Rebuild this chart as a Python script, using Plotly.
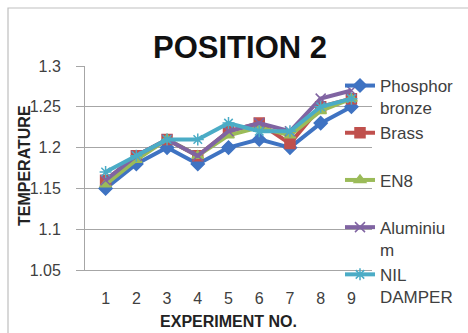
import plotly.graph_objects as go

experiments = ["1", "2", "3", "4", "5", "6", "7", "8", "9"]
phosphor_bronze = [1.15, 1.18, 1.20, 1.18, 1.20, 1.21, 1.20, 1.23, 1.25]
brass = [1.16, 1.19, 1.21, 1.19, 1.22, 1.23, 1.205, 1.25, 1.26]
en8 = [1.155, 1.185, 1.21, 1.19, 1.215, 1.225, 1.215, 1.245, 1.26]
aluminium = [1.16, 1.19, 1.21, 1.19, 1.22, 1.23, 1.22, 1.26, 1.27]
nil_damper = [1.17, 1.19, 1.21, 1.21, 1.23, 1.22, 1.22, 1.25, 1.26]
y_ticks = [1.05, 1.1, 1.15, 1.2, 1.25, 1.3]
y_tick_text = ["1.05", "1.1", "1.15", "1.2", "1.25", "1.3"]

series = [
    ("Phosphor<br>bronze", phosphor_bronze, "#3F73C2", "diamond"),
    ("Brass<br> ", brass, "#C0504D", "square"),
    ("EN8<br> ", en8, "#9BBB59", "triangle-up"),
    ("Aluminiu<br>m", aluminium, "#8064A2", "x-thin-open"),
    ("NIL<br>DAMPER", nil_damper, "#4BACC6", "asterisk-open"),
]

fig = go.Figure()
for i, (name, vals, col, sym) in enumerate(series):
    fig.add_trace(go.Scatter(
        x=experiments, y=vals, name=name, mode="lines+markers",
        line=dict(color=col, width=4),
        marker=dict(symbol=sym, size=10, color=col, line=dict(color=col, width=1.5)),
        legendgroup=str(i),
    ))

font = "Liberation Sans"
fig.update_layout(
    width=468, height=333,
    margin=dict(l=85, r=96, t=66, b=63, autoexpand=False),
    paper_bgcolor="white", plot_bgcolor="white",
    font=dict(family=font, color="#404040", size=13),
    title=dict(text="<b>POSITION 2</b>", x=240 / 468, xanchor="center",
               y=1 - 47 / 333, yanchor="middle",
               font=dict(family=font, size=31, color="#111111")),
    showlegend=True,
    legend=dict(x=(340 - 85) / 287, xanchor="left",
                yref="container", y=1 - 68 / 333, yanchor="top",
                maxheight=320,
                bgcolor="rgba(0,0,0,0)", font=dict(family=font, size=17, color="#404040"),
                valign="top", tracegroupgap=0, traceorder="grouped",
                itemwidth=30),
    xaxis=dict(type="category", showgrid=False, showline=True, linecolor="#A6A6A6",
               linewidth=1, ticks="", ticklabelstandoff=14, automargin=False,
               tickfont=dict(size=16, color="#404040"),
               title=dict(text="<b>EXPERIMENT NO.</b>", standoff=9,
                          font=dict(size=16, color="#222222"))),
    yaxis=dict(range=[1.05, 1.3], tickvals=y_ticks, ticktext=y_tick_text,
               showgrid=True, gridcolor="#A6A6A6", gridwidth=1,
               showline=True, linecolor="#A6A6A6", linewidth=1,
               ticks="outside", ticklen=8, tickcolor="#A6A6A6",
               ticklabelstandoff=12, automargin=False,
               tickfont=dict(size=16, color="#404040"), zeroline=False),
    shapes=[dict(type="rect", xref="paper", yref="paper",
                 x0=(8 - 85) / 287, x1=(480 - 85) / 287,
                 y0=(270 - 345) / 204, y1=(270 - 8) / 204,
                 line=dict(color="#BFBFBF", width=1.2), layer="below")],
    annotations=[dict(text="<b>TEMPERATURE</b>", xref="paper", yref="paper",
                      x=(24 - 85) / 287, y=(270 - 166) / 204, textangle=-90,
                      showarrow=False, xanchor="center", yanchor="middle",
                      font=dict(family=font, size=16, color="#222222"))],
)

fig.write_html("out.html")
